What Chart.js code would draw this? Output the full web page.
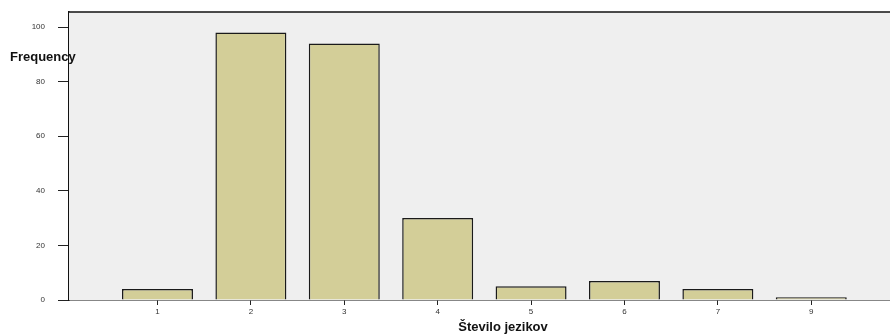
<!DOCTYPE html>
<html>
<head>
<meta charset="utf-8">
<script src="https://cdn.jsdelivr.net/npm/chart.js@4"></script>
<style>
  html, body { margin: 0; padding: 0; background: #fff; }
  #wrap { width: 890px; height: 334px; }
</style>
</head>
<body>
<div id="wrap"><canvas id="chart" width="890" height="334"></canvas></div>
<script>
const categories = ['1', '2', '3', '4', '5', '6', '7', '9'];
const frequencies = [4, 98, 94, 30, 5, 7, 4, 1];
const yTicks = [0, 20, 40, 60, 80, 100];

const fontFamily = '"Liberation Sans", Arial, sans-serif';

// Plot background, top border, "Frequency" label and the x title
const decorations = {
    id: 'decorations',
    beforeDatasetsDraw(chart) {
        const { ctx, chartArea } = chart;
        ctx.save();
        ctx.fillStyle = '#efefef';
        ctx.fillRect(chartArea.left, chartArea.top, chartArea.right - chartArea.left, chartArea.bottom - chartArea.top);
        ctx.restore();
    },
    afterDraw(chart) {
        const { ctx, chartArea } = chart;
        ctx.save();
        ctx.strokeStyle = '#111';
        ctx.lineWidth = 1.5;
        ctx.beginPath();
        ctx.moveTo(chartArea.left, chartArea.top);
        ctx.lineTo(chartArea.right, chartArea.top);
        ctx.stroke();
        ctx.fillStyle = '#111';
        ctx.font = 'bold 13px ' + fontFamily;
        ctx.textBaseline = 'middle';
        ctx.textAlign = 'left';
        ctx.fillText('Frequency', 10, 57);
        ctx.textAlign = 'center';
        ctx.fillText('Število jezikov', 503, 327);
        ctx.restore();
    }
};

new Chart(document.getElementById('chart'), {
    type: 'bar',
    data: {
        datasets: [{
            data: frequencies.map((f, i) => ({ x: i + 1, y: f })),
            backgroundColor: '#d3ce98',
            borderColor: '#1a1a1a',
            borderWidth: 1.5,
            barPercentage: 0.76,
            categoryPercentage: 1,
        }],
    },
    options: {
        responsive: false,
        animation: false,
        layout: { padding: { top: 12, right: 0, left: 0, bottom: 0 } },
        plugins: {
            legend: { display: false },
            tooltip: { enabled: false },
        },
        scales: {
            x: {
                type: 'linear',
                offset: false,
                min: 0.0525,
                max: 8.843,
                afterBuildTicks: (axis) => {
                    axis.ticks = categories.map((c, i) => ({ value: i + 1 }));
                },
                afterFit: (axis) => {
                    axis.height = 34;
                    axis.paddingLeft = 0;
                    axis.paddingRight = 0;
                },
                grid: { offset: false, drawOnChartArea: false, drawTicks: true, tickLength: 5, tickColor: '#222' },
                border: { display: true, color: '#111', width: 1.5 },
                ticks: {
                    autoSkip: false,
                    maxRotation: 0,
                    padding: 2,
                    color: '#333',
                    font: { size: 8, family: fontFamily },
                    callback: (value) => categories[value - 1],
                },
            },
            y: {
                min: 0,
                max: 105.5,
                afterBuildTicks: (axis) => {
                    axis.ticks = yTicks.map((v) => ({ value: v }));
                },
                afterFit: (axis) => {
                    axis.width = 69;
                    axis.paddingTop = 0;
                    axis.paddingBottom = 0;
                },
                grid: { drawOnChartArea: false, drawTicks: true, tickLength: 11, tickColor: '#222' },
                border: { display: true, color: '#111', width: 1.5 },
                ticks: {
                    padding: 13,
                    color: '#333',
                    font: { size: 8, family: fontFamily },
                },
            },
        },
    },
    plugins: [decorations],
});
</script>
</body>
</html>
